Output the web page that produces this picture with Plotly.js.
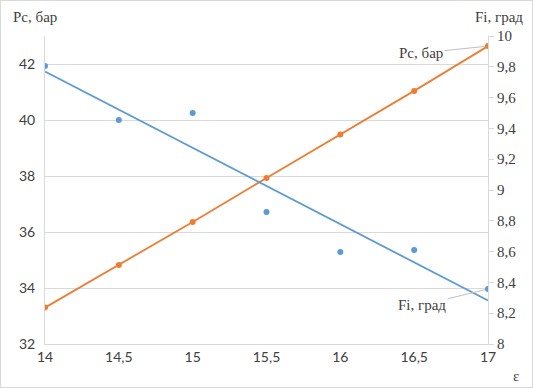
<!DOCTYPE html>
<html>
<head>
<meta charset="utf-8">
<script src="https://cdn.plot.ly/plotly-3.0.1.min.js"></script>
<style>
body{margin:0;padding:0;background:#fff;}
#wrap{position:relative;width:533px;height:388px;}
#frame{position:absolute;left:0;top:0;width:533px;height:388px;box-sizing:border-box;border:1px solid #d9d9d9;pointer-events:none;}
</style>
</head>
<body>
<div id="wrap"><div id="chart" style="width:533px;height:388px;"></div><div id="frame"></div></div>
<script>
const eps = [14, 14.5, 15, 15.5, 16, 16.5, 17];
const pc = [33.30, 34.82, 36.36, 37.93, 39.48, 41.04, 42.64];
const fi = [9.805, 9.455, 9.50, 8.857, 8.597, 8.61, 8.357];

// linear trend of Fi
const n = eps.length;
const mx = eps.reduce((a,b)=>a+b,0)/n;
const my = fi.reduce((a,b)=>a+b,0)/n;
let sxy=0, sxx=0;
for(let i=0;i<n;i++){sxy+=(eps[i]-mx)*(fi[i]-my);sxx+=(eps[i]-mx)*(eps[i]-mx);}
const slope = sxy/sxx, icpt = my - slope*mx;
const trendX = [eps[0], eps[n-1]];
const trendY = trendX.map(x=>icpt+slope*x);

const orange = '#ED7D31', blue = '#5B9BD5', grid = '#d9d9d9';
const sans = 'Lato, "Open Sans", sans-serif';
const serif = '"Liberation Serif", "DejaVu Serif", serif';

const traces = [
  {x: trendX, y: trendY, yaxis: 'y2', mode: 'lines', line: {color: blue, width: 1.8}, hoverinfo: 'skip'},
  {x: eps, y: fi, yaxis: 'y2', mode: 'markers', marker: {color: blue, size: 6}},
  {x: eps, y: pc, yaxis: 'y', mode: 'lines+markers', line: {color: orange, width: 1.8}, marker: {color: orange, size: 6}}
];

const layout = {
  width: 533, height: 388,
  margin: {l: 45, r: 45, t: 36, b: 44},
  paper_bgcolor: '#fff', plot_bgcolor: '#fff',
  showlegend: false,
  separators: ', ',
  xaxis: {
    range: [14, 17], dtick: 0.5, tick0: 14,
    showgrid: false, zeroline: false,
    showline: true, linecolor: grid, linewidth: 1,
    ticks: '', tickfont: {family: sans, size: 14, color: '#404040'}
  },
  yaxis: {
    range: [32, 43], dtick: 2, tick0: 32,
    showgrid: true, gridcolor: grid, gridwidth: 1, zeroline: false,
    showline: true, linecolor: grid, linewidth: 1,
    ticks: '', ticklabelstandoff: 6,
    tickfont: {family: sans, size: 14, color: '#404040'}
  },
  yaxis2: {
    range: [8, 10], dtick: 0.2, tick0: 8,
    overlaying: 'y', side: 'right',
    showgrid: false, zeroline: false,
    showline: true, linecolor: grid, linewidth: 1,
    ticks: 'outside', ticklen: 5, tickcolor: grid,
    tickfont: {family: serif, size: 15, color: '#404040'}
  },
  annotations: [
    {xref: 'paper', yref: 'paper', x: -0.077, y: 1.062, text: 'Рс, бар', showarrow: false,
     xanchor: 'left', yanchor: 'middle', font: {family: serif, size: 15, color: '#404040'}},
    {xref: 'paper', yref: 'paper', x: 1.084, y: 1.062, text: 'Fi, град', showarrow: false,
     xanchor: 'right', yanchor: 'middle', font: {family: serif, size: 15, color: '#404040'}},
    {xref: 'paper', yref: 'paper', x: 1.063, y: -0.105, text: 'ε', showarrow: false,
     xanchor: 'center', yanchor: 'middle', font: {family: serif, size: 15, color: '#404040'}},
    {x: 17, y: pc[6], xref: 'x', yref: 'y', text: 'Рс, бар', showarrow: true, arrowhead: 0,
     arrowwidth: 1, arrowcolor: '#bfbfbf', ax: -67, ay: 7, standoff: 3,
     font: {family: serif, size: 15, color: '#404040'}},
    {x: 17, y: fi[6], xref: 'x', yref: 'y2', text: 'Fi, град', showarrow: true, arrowhead: 0,
     arrowwidth: 1, arrowcolor: '#bfbfbf', ax: -66, ay: 16, standoff: 3,
     font: {family: serif, size: 15, color: '#404040'}}
  ]
};

Plotly.newPlot('chart', traces, layout, {displayModeBar: false, staticPlot: true});
</script>
</body>
</html>
